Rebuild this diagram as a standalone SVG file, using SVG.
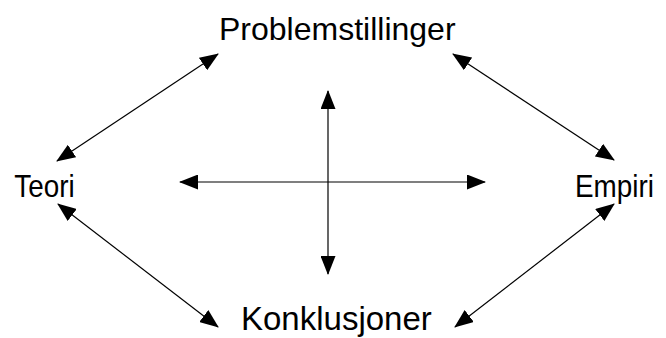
<svg xmlns="http://www.w3.org/2000/svg" width="666" height="338" viewBox="0 0 666 338">
<style>
.lbl{font-family:"Liberation Sans",Arial,sans-serif;fill:#000}
.c{stroke:#000;stroke-width:1.2;fill:none;marker-start:url(#ah);marker-end:url(#ah)}
</style>
<defs>
<marker id="ah" viewBox="0 -7.5 19 15" refX="18" refY="0" markerWidth="19" markerHeight="15" markerUnits="userSpaceOnUse" orient="auto-start-reverse">
<path d="M0,-7.5 L19,0 L0,7.5 z" fill="#000"/>
</marker>
</defs>
<rect width="666" height="338" fill="#fff"/>
<g id="connectors">
<line class="c" x1="57" y1="161" x2="218" y2="54"/>
<line class="c" x1="453" y1="54" x2="614" y2="160"/>
<line class="c" x1="58" y1="204" x2="218" y2="327"/>
<line class="c" x1="455" y1="327" x2="614" y2="204"/>
<line class="c" x1="180" y1="182" x2="485" y2="182"/>
<line class="c" x1="328" y1="91" x2="328" y2="274"/>
</g>
<g id="problemstillinger"><text class="lbl" x="219" y="40" font-size="32">Problemstillinger</text></g>
<g id="teori"><text class="lbl" transform="scale(0.87,1)" x="16.5" y="197" font-size="32">Teori</text></g>
<g id="empiri"><text class="lbl" transform="scale(0.87,1)" x="661" y="197" font-size="32">Empiri</text></g>
<g id="konklusjoner"><text class="lbl" x="241" y="330" font-size="33">Konklusjoner</text></g>
</svg>
